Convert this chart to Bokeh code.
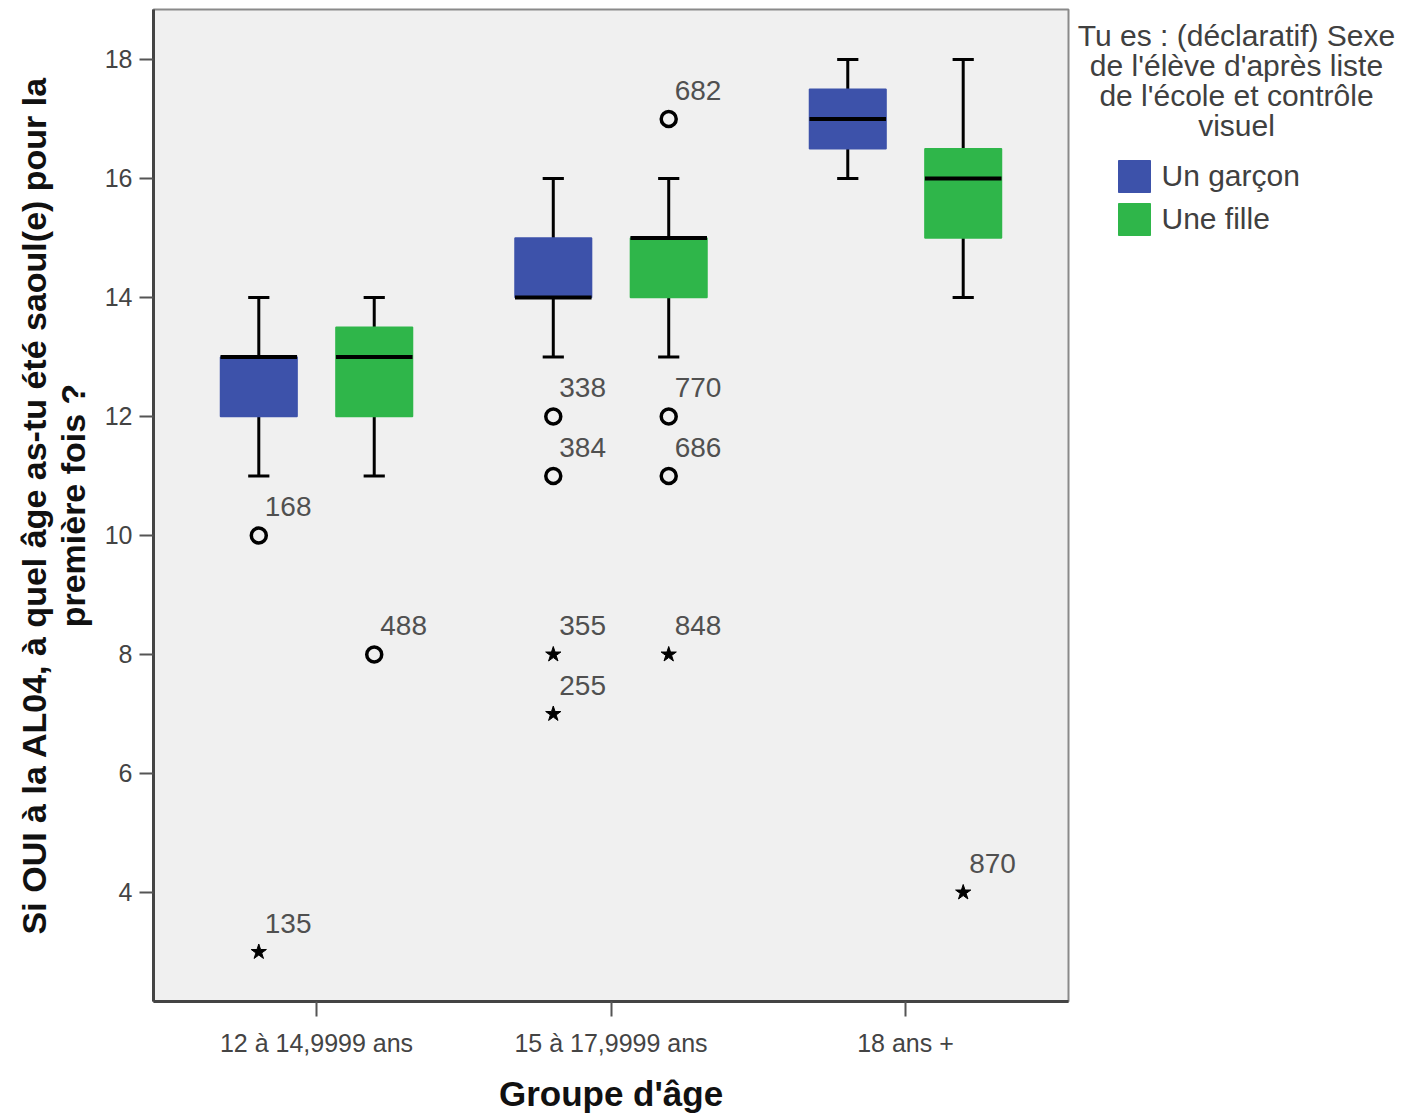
from bokeh.plotting import figure
from bokeh.layouts import row
from bokeh.models import ColumnDataSource, FactorRange, Range1d, FixedTicker, Legend, LegendItem, Label
from bokeh.transform import dodge
from bokeh.embed import file_html
from bokeh.resources import INLINE
from bokeh.core.properties import value

# ---------------- data ----------------
groups = ["12 à 14,9999 ans", "15 à 17,9999 ans", "18 ans +"]
sexes = ["Un garçon", "Une fille"]
legend_title = "Tu es : (déclaratif) Sexe\nde l'élève d'après liste\nde l'école et contrôle\nvisuel"

boy_low = [11, 13, 16]
boy_q1 = [12, 14, 16.5]
boy_med = [13, 14, 17]
boy_q3 = [13, 15, 17.5]
boy_high = [14, 16, 18]

girl_low = [11, 13, 14]
girl_q1 = [12, 14, 15]
girl_med = [13, 15, 16]
girl_q3 = [13.5, 15, 16.5]
girl_high = [14, 16, 18]

boy_out_group = ["12 à 14,9999 ans", "12 à 14,9999 ans", "15 à 17,9999 ans",
                 "15 à 17,9999 ans", "15 à 17,9999 ans", "15 à 17,9999 ans"]
boy_out_value = [10, 3, 12, 11, 8, 7]
boy_out_id = ["168", "135", "338", "384", "355", "255"]
boy_out_kind = ["circle", "star", "circle", "circle", "star", "star"]

girl_out_group = ["12 à 14,9999 ans", "15 à 17,9999 ans", "15 à 17,9999 ans",
                  "15 à 17,9999 ans", "15 à 17,9999 ans", "18 ans +"]
girl_out_value = [8, 17, 12, 11, 8, 4]
girl_out_id = ["488", "682", "770", "686", "848", "870"]
girl_out_kind = ["circle", "circle", "circle", "circle", "star", "star"]

y_ticks = [4, 6, 8, 10, 12, 14, 16, 18]

# ---------------- styling ----------------
BLUE = "#3d52aa"
GREEN = "#2fb64a"
COLORS = {"Un garçon": BLUE, "Une fille": GREEN}
FONT = "Liberation Sans"
OFF = 0.196
BOXW = 0.26
CAPW = 0.072

p = figure(
    x_range=FactorRange(*groups, range_padding=0.0357),
    y_range=Range1d(2.168, 18.84),
    width=1070, height=1114,
    frame_width=915, frame_height=992,
    min_border_left=153, min_border_top=9, min_border_bottom=113, min_border_right=2,
    output_backend="svg", toolbar_location=None,
    background_fill_color="#f0f0f0", border_fill_color="white",
)
p.outline_line_color = "#8a8a8a"
p.outline_line_width = 2
p.xgrid.visible = False
p.ygrid.visible = False

for sex, off, low, q1, med, q3, high in [
    ("Un garçon", -OFF, boy_low, boy_q1, boy_med, boy_q3, boy_high),
    ("Une fille", OFF, girl_low, girl_q1, girl_med, girl_q3, girl_high),
]:
    color = COLORS[sex]
    src = ColumnDataSource(dict(group=groups, low=low, q1=q1, med=med, q3=q3, high=high))
    xc = dodge("group", off, range=p.x_range)
    xl = dodge("group", off - CAPW / 2, range=p.x_range)
    xr = dodge("group", off + CAPW / 2, range=p.x_range)
    xbl = dodge("group", off - BOXW / 2, range=p.x_range)
    xbr = dodge("group", off + BOXW / 2, range=p.x_range)
    p.segment(x0=xc, y0="low", x1=xc, y1="q1", source=src, line_color="black", line_width=3)
    p.segment(x0=xc, y0="q3", x1=xc, y1="high", source=src, line_color="black", line_width=3)
    p.segment(x0=xl, y0="low", x1=xr, y1="low", source=src, line_color="black", line_width=3)
    p.segment(x0=xl, y0="high", x1=xr, y1="high", source=src, line_color="black", line_width=3)
    p.vbar(x=xc, width=BOXW, bottom="q1", top="q3", source=src,
           fill_color=color, line_color=color, line_width=1.5)
    p.segment(x0=xbl, y0="med", x1=xbr, y1="med", source=src, line_color="black", line_width=4)

for off, og, ov, oid, ok in [
    (-OFF, boy_out_group, boy_out_value, boy_out_id, boy_out_kind),
    (OFF, girl_out_group, girl_out_value, girl_out_id, girl_out_kind),
]:
    circ = [i for i, k in enumerate(ok) if k == "circle"]
    star = [i for i, k in enumerate(ok) if k == "star"]
    csrc = ColumnDataSource(dict(group=[og[i] for i in circ], v=[ov[i] for i in circ]))
    ssrc = ColumnDataSource(dict(group=[og[i] for i in star], v=[ov[i] for i in star]))
    xc = dodge("group", off, range=p.x_range)
    p.scatter(x=xc, y="v", source=csrc, marker="circle", size=15,
              fill_color="#f0f0f0", line_color="black", line_width=3.5)
    p.scatter(x=xc, y="v", source=ssrc, marker="star", size=16,
              fill_color="black", line_color="black", line_width=1)
    lsrc = ColumnDataSource(dict(group=og, v=ov, t=oid))
    p.text(x=xc, y="v", text="t", source=lsrc, x_offset=6, y_offset=-19,
           text_font=value(FONT), text_font_size="28px", text_color="#505050",
           text_baseline="bottom", text_align="left")

# axes
p.yaxis.ticker = FixedTicker(ticks=y_ticks)
p.yaxis.minor_tick_line_color = None
p.yaxis.major_tick_in = 0
p.yaxis.major_tick_out = 14
p.yaxis.major_tick_line_color = "#555555"
p.yaxis.major_tick_line_width = 2
p.yaxis.axis_line_color = "#444444"
p.yaxis.axis_line_width = 3
p.yaxis.major_label_text_font = FONT
p.yaxis.major_label_text_font_size = "25px"
p.yaxis.major_label_text_color = "#444444"
p.yaxis.major_label_standoff = 7
p.yaxis.axis_label = "Si OUI à la AL04, à quel âge as-tu été saoul(e) pour la\npremière fois ?"
p.yaxis.axis_label_text_font = FONT
p.yaxis.axis_label_text_font_style = "bold"
p.yaxis.axis_label_text_font_size = "34px"
p.yaxis.axis_label_text_line_height = 1.03
p.yaxis.axis_label_text_color = "#111111"
p.yaxis.axis_label_standoff = 10

p.xaxis.major_tick_in = 0
p.xaxis.major_tick_out = 15
p.xaxis.major_tick_line_color = "#555555"
p.xaxis.major_tick_line_width = 2
p.xaxis.axis_line_color = "#444444"
p.xaxis.axis_line_width = 3
p.xaxis.major_label_text_font = FONT
p.xaxis.major_label_text_font_size = "25px"
p.xaxis.major_label_text_color = "#444444"
p.xaxis.major_label_standoff = 12
p.xaxis.axis_label = "Groupe d'âge"
p.xaxis.axis_label_text_font = FONT
p.xaxis.axis_label_text_font_style = "bold"
p.xaxis.axis_label_text_font_size = "35px"
p.xaxis.axis_label_text_color = "#111111"
p.xaxis.axis_label_standoff = 14

# ---------------- legend panel ----------------
lp = figure(
    width=339, height=1114, x_range=FactorRange(*sexes), y_range=Range1d(0, 1),
    x_axis_type=None, y_axis_type=None,
    min_border_left=0, min_border_right=0, min_border_top=0, min_border_bottom=0,
    output_backend="svg", toolbar_location=None,
    background_fill_color="white", border_fill_color="white",
)
lp.outline_line_color = None
lp.xgrid.visible = False
lp.ygrid.visible = False

lsrc = ColumnDataSource(dict(sex=sexes, color=[COLORS[s] for s in sexes]))
swatch = lp.vbar(x="sex", top=0, bottom=0, width=0.5, source=lsrc,
                 fill_color="color", line_color="color", visible=False)

legend = Legend(
    items=[LegendItem(label=s, renderers=[swatch], index=i) for i, s in enumerate(sexes)],
    location=(43.5, 761),
    label_text_font=FONT, label_text_font_size="30px", label_text_color="#404040",
    glyph_width=40, glyph_height=40, label_height=40, label_standoff=8, spacing=3,
    border_line_color=None, background_fill_alpha=0, padding=0, margin=0,
)
lp.add_layout(legend)

lp.add_layout(Label(
    x=166, y=982, x_units="screen", y_units="screen", text=legend_title,
    text_font=FONT, text_font_size="30px", text_color="#404040",
    text_align="center", text_baseline="top", text_line_height=0.91,
))

layout = row(p, lp)
open("out.html", "w").write(file_html(layout, INLINE))
